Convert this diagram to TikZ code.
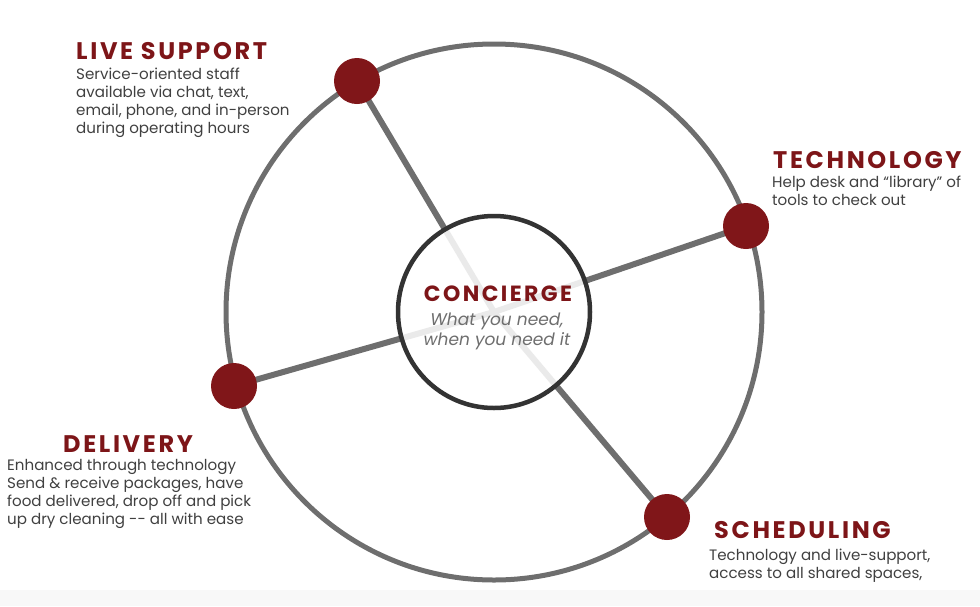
\documentclass[tikz,border=0pt]{standalone}
\usepackage{fontspec}
\setmainfont{Poppins}
\newfontfamily\titlefont{Poppins}[LetterSpace=11]
\usetikzlibrary{backgrounds}
\definecolor{cred}{HTML}{7D1518}
\definecolor{dotred}{HTML}{801619}
\definecolor{ringgray}{HTML}{6E6E6E}
\definecolor{hubdark}{HTML}{333333}
\definecolor{bodytext}{HTML}{404040}
\definecolor{subtext}{HTML}{6E6E6E}
\definecolor{band}{HTML}{F8F8F8}
\tikzset{
  ringnode/.style={circle, draw=ringgray, line width=5pt, minimum size=536pt, inner sep=0pt},
  hub/.style={circle, draw=hubdark, line width=4.5pt, fill=white, fill opacity=0.86, minimum size=192pt, inner sep=0pt},
  dot/.style={circle, fill=dotred, minimum size=46pt, inner sep=0pt},
  spoke/.style={draw=ringgray, line width=6pt},
  title/.style={anchor=base west, inner sep=0pt, text=cred, font=\titlefont\fontsize{24}{28}\selectfont\bfseries},
  body/.style={anchor=base west, inner sep=0pt, align=left, text=bodytext, font=\fontsize{15.1}{17.8}\selectfont},
}
\begin{document}
\begin{tikzpicture}[x=1pt,y=-1pt]
\useasboundingbox (0,0) rectangle (980,606);
\fill[band] (0,590) rectangle (980,606);
\coordinate (c) at (494,312);
\node[ringnode] (ring) at (c) {};
\node[hub] (hub) at (c) {};
\node[dot] (ls) at (357,81) {};
\node[dot] (te) at (746,226) {};
\node[dot] (de) at (234,386) {};
\node[dot] (sc) at (667,517) {};
\begin{pgfonlayer}{background}
  \draw[spoke] (ls.center) -- (c);
  \draw[spoke] (te.center) -- (c);
  \draw[spoke] (de.center) -- (c);
  \draw[spoke] (sc.center) -- (c);
\end{pgfonlayer}
% centre
\node[anchor=base, inner sep=0pt, text=cred, font=\titlefont\fontsize{22}{26}\selectfont\bfseries] (ct) at (498,301) {CONCIERGE};
\node[anchor=base, inner sep=0pt, align=center, text=subtext, font=\fontsize{17}{20}\selectfont\itshape] (cs) at (497,345) {What you need,\\when you need it};
% live support
\node[title] (lst) at (76,59) {LIVE SUPPORT};
\node[body] (lsb) at (76,133) {Service-oriented staff\\available via chat, text,\\email, phone, and in-person\\during operating hours};
% technology
\node[title] (tet) at (773,168) {TECHNOLOGY};
\node[body] (teb) at (772,205) {Help desk and “library” of\\tools to check out};
% delivery
\node[title] (det) at (63,452) {DELIVERY};
\node[body] (deb) at (7,524) {Enhanced through technology\\Send \& receive packages, have\\food delivered, drop off and pick\\up dry cleaning -{}- all with ease};
% scheduling
\node[title] (sct) at (714,538) {SCHEDULING};
\node[body] (scb) at (709,578) {Technology and live-support,\\access to all shared spaces,};
\end{tikzpicture}
\end{document}
